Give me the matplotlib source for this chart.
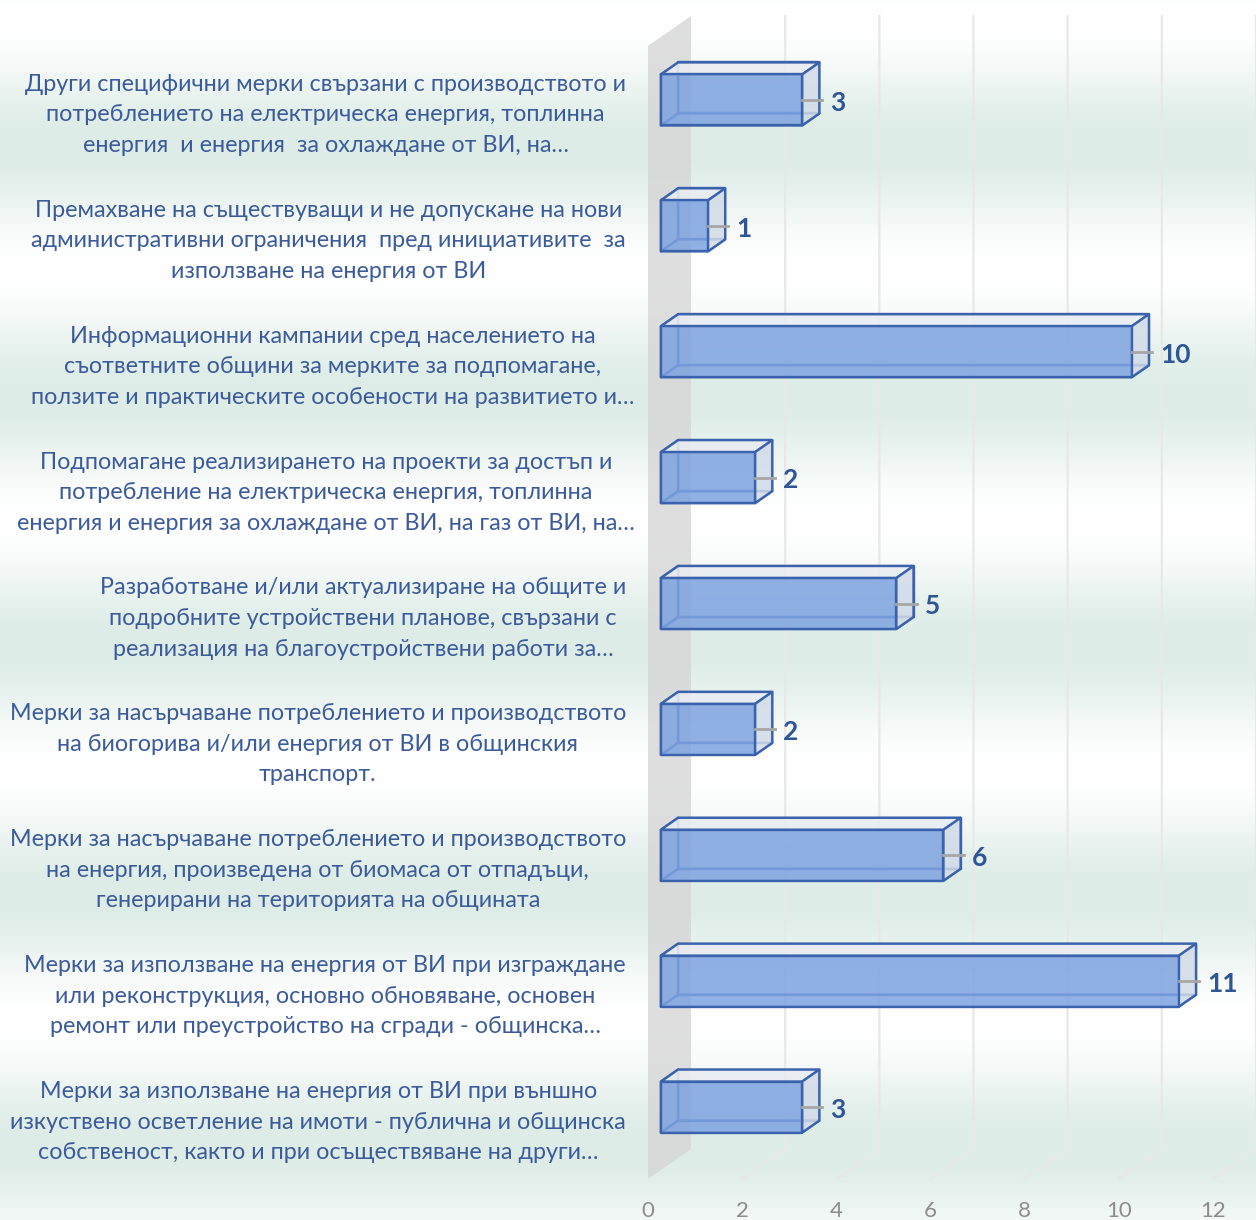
import numpy as np
import matplotlib
matplotlib.use("Agg")
import matplotlib.pyplot as plt
from matplotlib.patches import Polygon

plt.rcParams['font.family'] = ['Lato', 'DejaVu Sans']

categories = [
    "Други специфични мерки свързани с производството и\nпотреблението на електрическа енергия, топлинна\nенергия  и енергия  за охлаждане от ВИ, на…",
    "Премахване на съществуващи и не допускане на нови\nадминистративни ограничения  пред инициативите  за\nизползване на енергия от ВИ",
    "Информационни кампании сред населението на\nсъответните общини за мерките за подпомагане,\nползите и практическите особености на развитието и…",
    "Подпомагане реализирането на проекти за достъп и\nпотребление на електрическа енергия, топлинна\nенергия и енергия за охлаждане от ВИ, на газ от ВИ, на…",
    "Разработване и/или актуализиране на общите и\nподробните устройствени планове, свързани с\nреализация на благоустройствени работи за…",
    "Мерки за насърчаване потреблението и производството\nна биогорива и/или енергия от ВИ в общинския\nтранспорт.",
    "Мерки за насърчаване потреблението и производството\nна енергия, произведена от биомаса от отпадъци,\nгенерирани на територията на общината",
    "Мерки за използване на енергия от ВИ при изграждане\nили реконструкция, основно обновяване, основен\nремонт или преустройство на сгради - общинска…",
    "Мерки за използване на енергия от ВИ при външно\nизкуствено осветление на имоти - публична и общинска\nсобственост, както и при осъществяване на други…",
]
values = [3, 1, 10, 2, 5, 2, 6, 11, 3]
ticks = [0, 2, 4, 6, 8, 10, 12]

W, H = 1256, 1220
fig = plt.figure(figsize=(W / 100, H / 100), dpi=100)

# soft mint/white horizontal bands behind everything
rows = np.arange(H)
w = 0.5 * (1 - np.cos(2 * np.pi * (rows - 20) / 250.0))
white = np.array([1.0, 1.0, 1.0])
mint = np.array([0xdd, 0xec, 0xe7]) / 255.0
grad = white[None, :] * (1 - w[:, None]) + mint[None, :] * w[:, None]
bg = fig.add_axes([0, 0, 1, 1], zorder=-5)
bg.imshow(grad[:, None, :], aspect='auto', extent=[0, 1, 0, 1],
          interpolation='bilinear')
bg.axis('off')

# front plane of the 3-D plot box
x_left, x_right = 648, 1213
y_top, y_bot = 46, 1179
n = len(values)
ax = fig.add_axes([x_left / W, (H - y_bot) / H,
                   (x_right - x_left) / W, (y_bot - y_top) / H])
ax.set_xlim(ticks[0], ticks[-1])
ax.set_ylim(n - 0.5, -0.5)
ax.set_facecolor('none')
for s in ax.spines.values():
    s.set_visible(False)

px_x = (x_right - x_left) / (ticks[-1] - ticks[0])
px_y = (y_bot - y_top) / n
DX = 43 / px_x       # full depth, in value units
DY = 30 / px_y       # full depth, in category units


def proj(v, c, z):
    return (v + z * DX, c - z * DY)


edge = '#3a62ad'

# side wall at zero
wall = [proj(0, -0.5, 0), proj(0, -0.5, 1), proj(0, n - 0.5, 1), proj(0, n - 0.5, 0)]
ax.add_patch(Polygon(wall, closed=True, facecolor='#d6d6d6', alpha=0.8,
                     edgecolor='none', zorder=1, clip_on=False))

# gridlines on back wall and floor
for t in ticks[1:]:
    pts = [proj(t, -0.5, 1), proj(t, n - 0.5, 1), proj(t, n - 0.5, 0)]
    ax.plot([p[0] for p in pts], [p[1] for p in pts], color='#e8e8e8',
            lw=1.6, zorder=0.5, clip_on=False)

# boxes
h = 0.2025
z0, z1 = 0.3, 0.7
for i, v in enumerate(values):
    FTL, FTR = proj(0, i - h, z0), proj(v, i - h, z0)
    FBL, FBR = proj(0, i + h, z0), proj(v, i + h, z0)
    BTL, BTR = proj(0, i - h, z1), proj(v, i - h, z1)
    BBL, BBR = proj(0, i + h, z1), proj(v, i + h, z1)
    faces = [
        ([BTL, BTR, BBR, BBL], 'none', 1.0),
        ([FBL, FBR, BBR, BBL], 'none', 1.0),
        ([FTL, BTL, BBL, FBL], 'none', 1.0),
        ([FTL, FTR, BTR, BTL], '#e9edf3', 0.9),
        ([FTR, BTR, BBR, FBR], '#d2dbe7', 0.85),
        ([FTL, FTR, FBR, FBL], '#7ea3e0', 0.85),
    ]
    for k, (poly, fc, a) in enumerate(faces):
        ax.add_patch(Polygon(poly, closed=True, facecolor=fc, alpha=a,
                             edgecolor='none', zorder=3 + k * 0.01, clip_on=False))
        ax.add_patch(Polygon(poly, closed=True, facecolor='none',
                             edgecolor=edge, lw=1.7, zorder=3 + k * 0.01 + 0.005,
                             clip_on=False, joinstyle='round'))
    fx, fy = proj(v, i, z0)
    ax.plot([fx, fx + 0.43], [fy, fy], color='#a6a6a6', lw=2, zorder=4,
            clip_on=False)
    ax.annotate(str(v), xy=(fx + 0.6, fy), xytext=(0, -2), textcoords='offset points',
                ha='left', va='center', fontsize=19, fontweight='bold',
                color='#2f5597', zorder=5)

ax.set_xticks(ticks)
ax.set_xticklabels([str(t) for t in ticks])
ax.tick_params(axis='x', length=0, pad=16, labelsize=16, labelcolor='#8c8c8c')
ax.set_yticks([])

# category labels: right-aligned blocks, centred lines
label_color = '#3b5b9a'
fig.canvas.draw()
renderer = fig.canvas.get_renderer()


def text_width(s, size):
    t = fig.text(0, 0, s, fontsize=size)
    wd = t.get_window_extent(renderer).width
    t.remove()
    return wd


base = 16
lines = [l.rstrip('…') for lab in categories for l in lab.split('\n')]
size = base * 618 / max(text_width(l, base) for l in lines)
right_edge = 626
for i, lab in enumerate(categories):
    bw = max(text_width(l.rstrip('…'), size) for l in lab.split('\n'))
    dx_px = (right_edge - x_left) - bw / 2
    ax.annotate(lab, xy=(0, i), xycoords='data',
                xytext=(dx_px * 0.72, -6 * 0.72), textcoords='offset points',
                ha='center', va='center', multialignment='center',
                fontsize=size, color=label_color, linespacing=1.56)

fig.savefig('out.png', dpi=100)
